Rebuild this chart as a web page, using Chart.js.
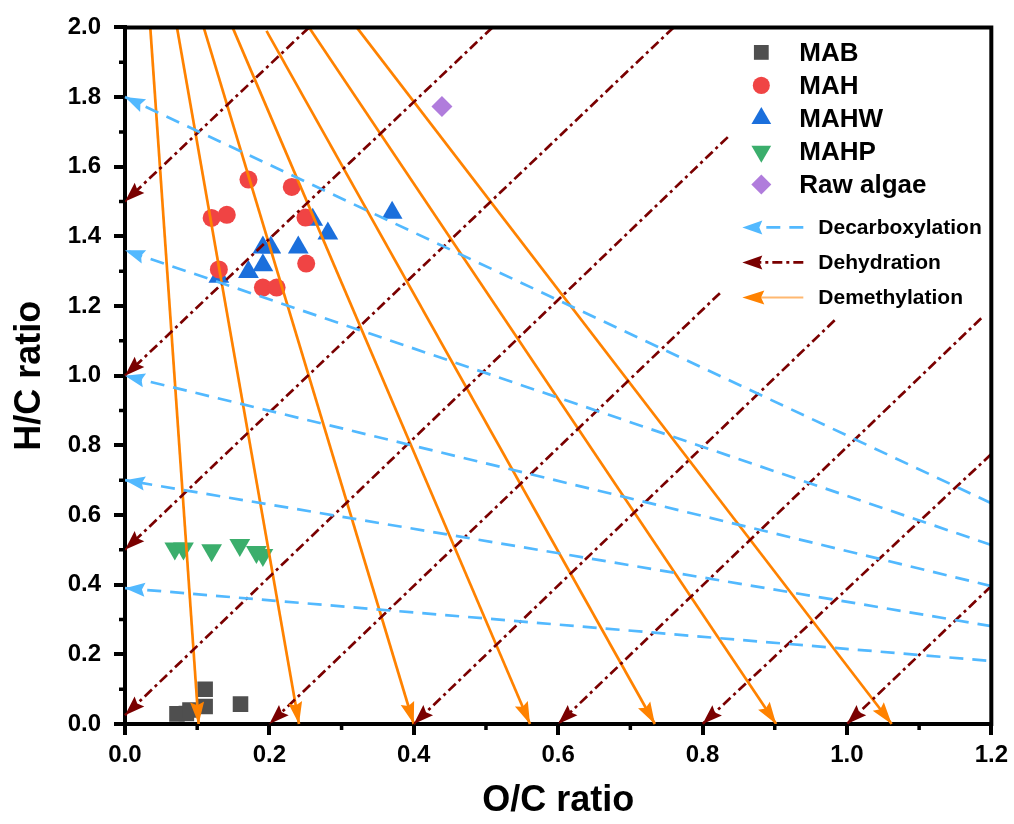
<!DOCTYPE html>
<html><head><meta charset="utf-8">
<script src="https://cdn.jsdelivr.net/npm/chart.js@4/dist/chart.umd.min.js"></script>
<style>html,body{margin:0;padding:0;background:#fff}#wrap{width:1014px;height:824px}</style>
</head><body><div id="wrap"><canvas id="c" width="1014" height="824"></canvas></div>
<script>
// ---------- data ----------
const xTickValues = [0, 0.2, 0.4, 0.6, 0.8, 1.0, 1.2];
const xTickLabels = ['0.0', '0.2', '0.4', '0.6', '0.8', '1.0', '1.2'];
const yTickValues = [0, 0.2, 0.4, 0.6, 0.8, 1.0, 1.2, 1.4, 1.6, 1.8, 2.0];
const yTickLabels = ['0.0', '0.2', '0.4', '0.6', '0.8', '1.0', '1.2', '1.4', '1.6', '1.8', '2.0'];
const xMinorTicks = [0.1, 0.3, 0.5, 0.7, 0.9, 1.1];
const yMinorTicks = [0.1, 0.3, 0.5, 0.7, 0.9, 1.1, 1.3, 1.5, 1.7, 1.9];

const mabOC = [0.072, 0.085, 0.090, 0.111, 0.111, 0.160];
const mabHC = [0.029, 0.030, 0.040, 0.050, 0.100, 0.057];

const mahOC = [0.171, 0.231, 0.120, 0.141, 0.250, 0.130, 0.251, 0.191, 0.210];
const mahHC = [1.563, 1.542, 1.453, 1.462, 1.454, 1.305, 1.322, 1.253, 1.253];

const mahwOC = [0.370, 0.260, 0.281, 0.191, 0.202, 0.240, 0.191, 0.171, 0.130];
const mahwHC = [1.468, 1.448, 1.408, 1.368, 1.368, 1.368, 1.317, 1.298, 1.284];

const mahpOC = [0.069, 0.081, 0.120, 0.159, 0.182, 0.191];
const mahpHC = [0.504, 0.504, 0.499, 0.514, 0.494, 0.485];

const rawOC = [0.439];
const rawHC = [1.773];

// reaction pathways: tail -> tip (arrow at tip)
const decarbTailX = [1.2, 1.2, 1.2, 1.2, 1.193];
const decarbTailY = [0.634, 0.514, 0.396, 0.281, 0.182];
const decarbTipX = [0, 0, 0, 0, 0];
const decarbTipY = [1.80, 1.36, 1.00, 0.70, 0.39];

const dehydTailX = [0.255, 0.509, 0.76, 0.835, 0.824, 0.983, 1.186, 1.2, 1.2];
const dehydTailY = [2.0, 2.0, 2.0, 1.685, 1.237, 1.159, 1.165, 0.775, 0.396];
const dehydTipX = [0, 0, 0, 0, 0.2, 0.4, 0.6, 0.8, 1.0];
const dehydTipY = [1.5, 1.0, 0.5, 0.025, 0, 0, 0, 0, 0];

const demethTailX = [0.035, 0.072, 0.109, 0.149, 0.196, 0.255, 0.321];
const demethTailY = [2.0, 2.0, 2.0, 2.0, 1.99, 2.0, 2.0];
const demethTipX = [0.102, 0.241, 0.400, 0.561, 0.734, 0.902, 1.062];
const demethTipY = [0, 0, 0, 0, 0, 0, 0];

// ---------- styles ----------
const C_MAB = '#4f4f4f', C_MAH = '#f04444', C_MAHW = '#1b6fdc', C_MAHP = '#3bae6c', C_RAW = '#b07cdc';
const C_DECARB = '#52b9ff', C_DEHYD = '#7a0000', C_DEMETH = '#ff8200';
const FONT = '"Liberation Sans", Arial, sans-serif';

function pts(xs, ys) { return xs.map((x, i) => ({ x: x, y: ys[i] })); }

const datasets = [];
function marker(label, xs, ys, color, style, r, rot) {
  datasets.push({ label, data: pts(xs, ys), backgroundColor: color, borderColor: color,
    pointStyle: style, pointRadius: r, pointHoverRadius: r, pointRotation: rot || 0,
    pointBorderWidth: 0, showLine: false, order: 2, kind: 'marker' });
}
marker('MAB', mabOC, mabHC, C_MAB, 'rect', 11);
marker('MAH', mahOC, mahHC, C_MAH, 'circle', 9);
marker('MAHW', mahwOC, mahwHC, C_MAHW, 'triangle', 12);
marker('MAHP', mahpOC, mahpHC, C_MAHP, 'triangle', 12, 180);
marker('Raw algae', rawOC, rawHC, C_RAW, 'rectRot', 10.5);

function pathway(label, tx, ty, hx, hy, color, dash, alen, awid) {
  tx.forEach((_, i) => {
    datasets.push({ label, data: [{ x: tx[i], y: ty[i] }, { x: hx[i], y: hy[i] }],
      borderColor: color, backgroundColor: color, borderWidth: 2.7, borderDash: dash,
      pointRadius: 0, pointHoverRadius: 0, showLine: true, fill: false, tension: 0,
      order: 1, kind: 'line', arrow: true, arrowLen: alen, arrowWid: awid, clip: false });
  });
}
pathway('Decarboxylation', decarbTailX, decarbTailY, decarbTipX, decarbTipY, C_DECARB, [14, 9], 20, 14);
pathway('Dehydration', dehydTailX, dehydTailY, dehydTipX, dehydTipY, C_DEHYD, [10, 4, 3, 4], 20, 14);
pathway('Demethylation', demethTailX, demethTailY, demethTipX, demethTipY, C_DEMETH, [], 22, 14);

function drawHead(ctx, fx, fy, tx, ty, color, len, wid) {
  const dx = tx - fx, dy = ty - fy, L = Math.hypot(dx, dy) || 1;
  const ux = dx / L, uy = dy / L;
  const bx = tx - ux * len, by = ty - uy * len;
  const nx = tx - ux * len * 0.85, ny = ty - uy * len * 0.85;
  ctx.save();
  ctx.fillStyle = color;
  ctx.beginPath();
  ctx.moveTo(tx, ty);
  ctx.lineTo(bx - uy * wid / 2, by + ux * wid / 2);
  ctx.lineTo(nx, ny);
  ctx.lineTo(bx + uy * wid / 2, by - ux * wid / 2);
  ctx.closePath();
  ctx.fill();
  ctx.restore();
}

function drawMarker(ctx, style, x, y, r, rot, color) {
  ctx.save();
  ctx.fillStyle = color;
  ctx.beginPath();
  if (style === 'rect') {
    const s = Math.SQRT1_2 * r; ctx.rect(x - s, y - s, 2 * s, 2 * s);
  } else if (style === 'circle') {
    ctx.arc(x, y, r, 0, Math.PI * 2);
  } else if (style === 'triangle') {
    const a = (rot || 0) * Math.PI / 180;
    for (let k = 0; k < 3; k++) {
      const t = a + k * 2 * Math.PI / 3;
      const px = x + Math.sin(t) * r, py = y - Math.cos(t) * r;
      if (k === 0) ctx.moveTo(px, py); else ctx.lineTo(px, py);
    }
    ctx.closePath();
  } else if (style === 'rectRot') {
    ctx.moveTo(x, y - r); ctx.lineTo(x + r, y); ctx.lineTo(x, y + r); ctx.lineTo(x - r, y); ctx.closePath();
  }
  ctx.fill();
  ctx.restore();
}

const decor = {
  id: 'decor',
  afterDatasetsDraw(chart) {
    const ctx = chart.ctx;
    chart.data.datasets.forEach((ds, i) => {
      if (!ds.arrow) return;
      const m = chart.getDatasetMeta(i);
      const a = m.data[0], b = m.data[1];
      drawHead(ctx, a.x, a.y, b.x, b.y, ds.borderColor, ds.arrowLen, ds.arrowWid);
    });
  },
  afterDraw(chart) {
    const ctx = chart.ctx, ca = chart.chartArea;
    const xs = chart.scales.x, ys = chart.scales.y;
    ctx.save();
    ctx.strokeStyle = '#000';
    ctx.lineWidth = 4;
    ctx.lineCap = 'square';
    ctx.beginPath();
    ctx.moveTo(ca.left, ca.top); ctx.lineTo(ca.right, ca.top); ctx.lineTo(ca.right, ca.bottom);
    ctx.stroke();
    ctx.lineCap = 'butt';
    ctx.lineWidth = 3.5;
    ctx.beginPath();
    xMinorTicks.forEach(v => { const px = xs.getPixelForValue(v); ctx.moveTo(px, ca.bottom); ctx.lineTo(px, ca.bottom + 6); });
    yMinorTicks.forEach(v => { const py = ys.getPixelForValue(v); ctx.moveTo(ca.left, py); ctx.lineTo(ca.left - 6, py); });
    ctx.stroke();

    // legend
    const seen = new Set(); const items = [];
    chart.data.datasets.forEach(ds => { if (!seen.has(ds.label)) { seen.add(ds.label); items.push(ds); } });
    const mx = ca.right - 230, tx = ca.right - 192;
    let ry = ca.top + 25;
    ctx.textBaseline = 'middle';
    ctx.textAlign = 'left';
    items.filter(d => d.kind === 'marker').forEach(d => {
      drawMarker(ctx, d.pointStyle, mx, ry, d.pointRadius * 0.95, d.pointRotation, d.backgroundColor);
      ctx.fillStyle = '#000';
      ctx.font = 'bold 26px ' + FONT;
      ctx.fillText(d.label, tx, ry + 1);
      ry += 33;
    });
    let ly = ca.top + 200;
    const lx0 = ca.right - 249, lx1 = ca.right - 188, ltx = ca.right - 173;
    items.filter(d => d.kind === 'line').forEach(d => {
      ctx.save();
      ctx.strokeStyle = d.label === 'Demethylation' ? '#ffb870' : d.borderColor;
      ctx.lineWidth = d.label === 'Demethylation' ? 2 : 2.7;
      ctx.setLineDash(d.borderDash || []);
      ctx.beginPath(); ctx.moveTo(lx1, ly); ctx.lineTo(lx0 + 12, ly); ctx.stroke();
      ctx.restore();
      drawHead(ctx, lx1, ly, lx0, ly, d.borderColor, d.arrowLen, d.arrowWid);
      ctx.fillStyle = '#000';
      ctx.font = 'bold 21px ' + FONT;
      ctx.fillText(d.label, ltx, ly + 1);
      ly += 35;
    });
    ctx.restore();
  }
};

const tickFont = { family: FONT, size: 24, weight: 'bold' };
const titleFont = { family: FONT, size: 36, weight: 'bold' };

new Chart(document.getElementById('c'), {
  type: 'scatter',
  data: { datasets },
  options: {
    responsive: false, animation: false, devicePixelRatio: 1,
    layout: { padding: { top: 27, right: 22, left: 0, bottom: 0 } },
    plugins: { legend: { display: false }, tooltip: { enabled: false } },
    scales: {
      x: {
        type: 'linear', min: 0, max: 1.2,
        afterBuildTicks: s => { s.ticks = xTickValues.map(v => ({ value: v })); },
        afterFit: s => { s.height = 100; },
        ticks: { font: tickFont, color: '#000', padding: 6, maxRotation: 0,
          callback: (v, i) => xTickLabels[i] },
        grid: { drawOnChartArea: false, drawTicks: true, tickLength: 11, color: '#000', tickColor: '#000', lineWidth: 4, tickWidth: 4 },
        border: { display: true, color: '#000', width: 4 },
        title: { display: true, text: 'O/C ratio', font: titleFont, color: '#000', padding: { top: 0, bottom: 1 } }
      },
      y: {
        type: 'linear', min: 0, max: 2.0,
        afterBuildTicks: s => { s.ticks = yTickValues.map(v => ({ value: v })); },
        afterFit: s => { s.width = 125; },
        ticks: { font: tickFont, color: '#000', padding: 13,
          callback: (v, i) => yTickLabels[i] },
        grid: { drawOnChartArea: false, drawTicks: true, tickLength: 11, color: '#000', tickColor: '#000', lineWidth: 4, tickWidth: 4 },
        border: { display: true, color: '#000', width: 4 },
        title: { display: true, text: 'H/C ratio', font: titleFont, color: '#000', padding: { top: 8, bottom: 0 } }
      }
    }
  },
  plugins: [decor]
});
</script>
</body></html>
